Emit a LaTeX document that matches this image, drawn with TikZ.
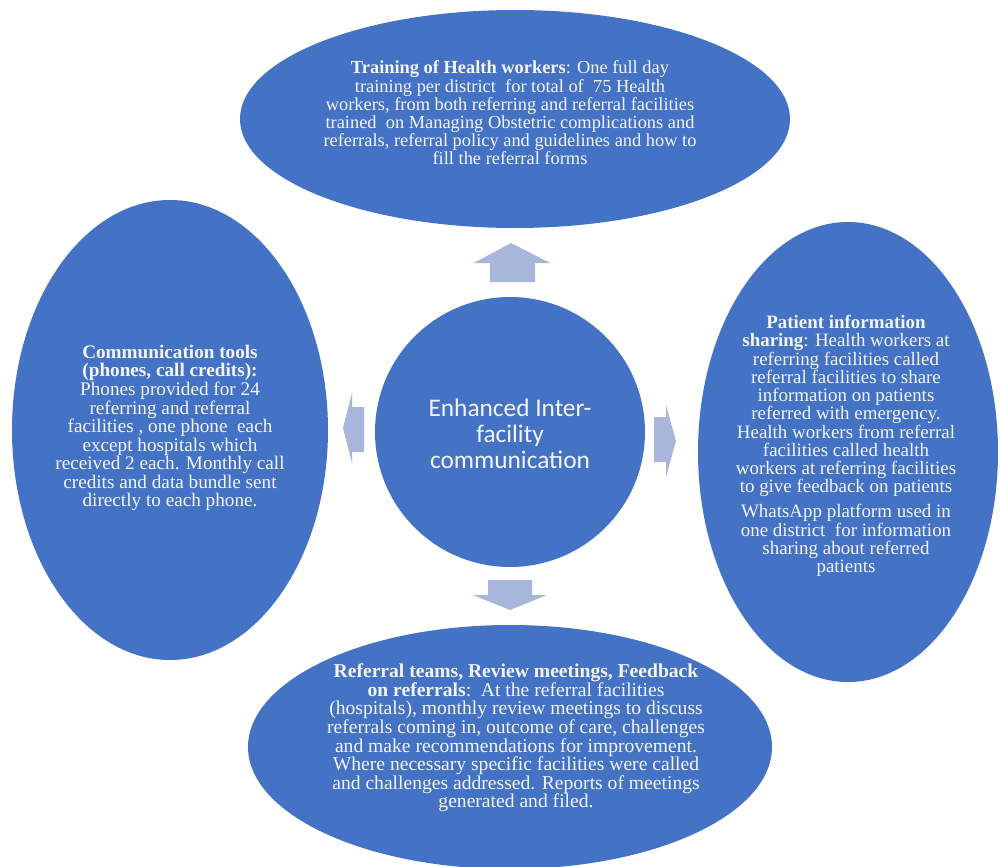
\documentclass[tikz,border=0pt]{standalone}
\usepackage{fontspec}
\setmainfont{Liberation Serif}
\newfontfamily\carlito{Carlito}
\usetikzlibrary{shapes.geometric}
\definecolor{bubblue}{RGB}{68,114,196}
\definecolor{arrowblue}{RGB}{168,182,220}
\definecolor{txtwhite}{RGB}{245,245,245}
\begin{document}
\begin{tikzpicture}[x=0.75pt,y=-0.75pt,
  bubble/.style={ellipse, fill=bubblue, draw=none, inner sep=0pt, outer sep=0pt},
  txt/.style={text=txtwhite, align=center, inner sep=0pt},
  blockarrow/.style={fill=arrowblue, draw=none}]
\useasboundingbox (0,0) rectangle (1000,867);
\fill[white] (0,0) rectangle (1000,867);
% bubbles
\node[bubble, minimum width=412.5pt, minimum height=163.5pt] (train) at (515,119) {};
\node[bubble, minimum width=237pt, minimum height=345pt] (comm) at (170,430) {};
\node[bubble, minimum width=225pt, minimum height=345pt] (share) at (848,452) {};
\node[bubble, minimum width=393pt, minimum height=183pt] (review) at (510,747) {};
\node[bubble, circle, minimum size=202.5pt] (hub) at (510,432) {};
% block arrows
\fill[blockarrow] (490,282) -- (490,263) -- (474,263) -- (511,243) -- (550,263) -- (535,263) -- (535,282) -- cycle;
\fill[blockarrow] (488,580) -- (532,580) -- (532,595) -- (547,595) -- (510,610) -- (473,595) -- (488,595) -- cycle;
\fill[blockarrow] (364,407) -- (352,407) -- (352,393) -- (343,428) -- (352,463) -- (352,452) -- (364,452) -- cycle;
\fill[blockarrow] (654,417) -- (666,417) -- (666,405) -- (676,441) -- (666,477) -- (666,462) -- (654,462) -- cycle;
% texts
\node[txt, font=\fontsize{13.8pt}{12.5pt}\selectfont] (traintext) at (510,113)
 {\textbf{Training of Health workers}: One full day\\
  training per district\ \ for total of\ \ 75 Health\\
  workers, from both referring and referral facilities\\
  trained\ \ on Managing Obstetric complications and\\
  referrals, referral policy and guidelines and how to\\
  fill the referral forms};
\node[txt, font=\fontsize{14.4pt}{13.9pt}\selectfont] (commtext) at (170,428)
 {\textbf{Communication tools}\\
  \textbf{(phones, call credits):}\\
  Phones provided for 24\\
  referring and referral\\
  facilities , one phone\ \ each\\
  except hospitals which\\
  received 2 each. Monthly call\\
  credits and data bundle sent\\
  directly to each phone.};
\node[txt, font=\fontsize{14.2pt}{13.7pt}\selectfont] (sharetext) at (846,446)
 {\textbf{Patient information}\\
  \textbf{sharing}: Health workers at\\
  referring facilities called\\
  referral facilities to share\\
  information on patients\\
  referred with emergency.\\
  Health workers from referral\\
  facilities called health\\
  workers at referring facilities\\
  to give feedback on patients\\[5pt]
  WhatsApp platform used in\\
  one district\ \ for information\\
  sharing about referred\\
  patients};
\node[txt, font=\fontsize{14.7pt}{13.9pt}\selectfont] (reviewtext) at (516,738)
 {\textbf{Referral teams, Review meetings, Feedback}\\
  \textbf{on referrals}:\ \ At the referral facilities\\
  (hospitals), monthly review meetings to discuss\\
  referrals coming in, outcome of care, challenges\\
  and make recommendations for improvement.\\
  Where necessary specific facilities were called\\
  and challenges addressed. Reports of meetings\\
  generated and filed.};
\node[txt, font=\carlito\fontsize{19pt}{19.5pt}\selectfont] (hubtext) at (510,434)
 {Enhanced Inter-\\facility\\communication};
\end{tikzpicture}
\end{document}
